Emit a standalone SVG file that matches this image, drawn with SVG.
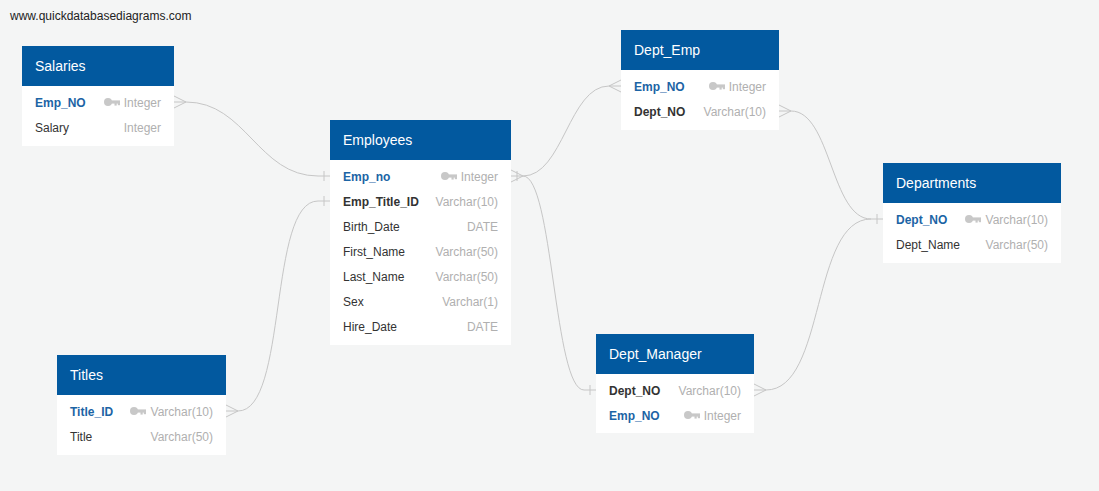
<svg xmlns="http://www.w3.org/2000/svg" width="1099" height="491" viewBox="0 0 1099 491">
<style>
text{font-family:"Liberation Sans",Arial,sans-serif}
.hdr{fill:#02599f}
.body{fill:#ffffff}
.ht{fill:#ffffff;font-size:14px}
.pk{fill:#1c64a5;font-size:12px;font-weight:bold}
.fk{fill:#333333;font-size:12px;font-weight:bold}
.col{fill:#333333;font-size:12px}
.ty{fill:#b0b0b0;font-size:12px;text-anchor:end}
.cn{fill:none;stroke:#c6c6c6;stroke-width:1}
</style>
<defs>
<symbol id="key" viewBox="0 0 16 8">
<circle cx="4" cy="4" r="4" fill="#c8c8c8"/>
<rect x="6" y="2.4" width="10" height="3.2" fill="#c8c8c8"/>
<rect x="10.5" y="5" width="2.2" height="2.6" fill="#c8c8c8"/>
<rect x="13.8" y="5" width="2.2" height="2.2" fill="#c8c8c8"/>
</symbol>
</defs>
<rect width="1099" height="491" fill="#f4f5f5"/>
<text x="10" y="20" style="font-size:12px;fill:#222">www.quickdatabasediagrams.com</text>

<g id="connectors">
<path class="cn" d="M174,102 H186 C246,102 258,176 318,176 H330"/>
<path class="cn" d="M174,96 L186,102 M174,108 L186,102 M324,171 V181"/>
<path class="cn" d="M226,411 H238 C288,411 268,201 318,201 H330"/>
<path class="cn" d="M226,405 L238,411 M226,417 L238,411 M324,196 V206"/>
<path class="cn" d="M511,176 H523 C563,176 569,86 609,86 H621"/>
<path class="cn" d="M621,80 L609,86 M621,92 L609,86"/>
<path class="cn" d="M523,176 C553,176 554,390 584,390 H596"/>
<path class="cn" d="M511,170 L523,176 M511,182 L523,176 M517,171 V181 M590,385 V395"/>
<path class="cn" d="M779,111 H791 C831,111 831,219 871,219 H883"/>
<path class="cn" d="M779,105 L791,111 M779,117 L791,111 M877,214 V224"/>
<path class="cn" d="M754,390 H766 C826,390 811,219 871,219"/>
<path class="cn" d="M754,384 L766,390 M754,396 L766,390"/>
</g>

<g id="salaries">
<rect class="body" x="22" y="86" width="152" height="60"/>
<rect class="hdr" x="22" y="46" width="152" height="40"/>
<text class="ht" x="35" y="71">Salaries</text>
<text class="pk" x="35" y="107">Emp_NO</text>
<use href="#key" x="104" y="98" width="16" height="8"/>
<text class="ty" x="161" y="107">Integer</text>
<text class="col" x="35" y="132">Salary</text>
<text class="ty" x="161" y="132">Integer</text>
</g>

<g id="employees">
<rect class="body" x="330" y="160" width="181" height="185"/>
<rect class="hdr" x="330" y="120" width="181" height="40"/>
<text class="ht" x="343" y="145">Employees</text>
<text class="pk" x="343" y="181">Emp_no</text>
<use href="#key" x="441" y="172" width="16" height="8"/>
<text class="ty" x="498" y="181">Integer</text>
<text class="fk" x="343" y="206">Emp_Title_ID</text>
<text class="ty" x="498" y="206">Varchar(10)</text>
<text class="col" x="343" y="231">Birth_Date</text>
<text class="ty" x="498" y="231">DATE</text>
<text class="col" x="343" y="256">First_Name</text>
<text class="ty" x="498" y="256">Varchar(50)</text>
<text class="col" x="343" y="281">Last_Name</text>
<text class="ty" x="498" y="281">Varchar(50)</text>
<text class="col" x="343" y="306">Sex</text>
<text class="ty" x="498" y="306">Varchar(1)</text>
<text class="col" x="343" y="331">Hire_Date</text>
<text class="ty" x="498" y="331">DATE</text>
</g>

<g id="dept_emp">
<rect class="body" x="621" y="70" width="158" height="60"/>
<rect class="hdr" x="621" y="30" width="158" height="40"/>
<text class="ht" x="634" y="55">Dept_Emp</text>
<text class="pk" x="634" y="91">Emp_NO</text>
<use href="#key" x="709" y="82" width="16" height="8"/>
<text class="ty" x="766" y="91">Integer</text>
<text class="fk" x="634" y="116">Dept_NO</text>
<text class="ty" x="766" y="116">Varchar(10)</text>
</g>

<g id="departments">
<rect class="body" x="883" y="203" width="178" height="60"/>
<rect class="hdr" x="883" y="163" width="178" height="40"/>
<text class="ht" x="896" y="188">Departments</text>
<text class="pk" x="896" y="224">Dept_NO</text>
<use href="#key" x="965" y="215" width="16" height="8"/>
<text class="ty" x="1048" y="224">Varchar(10)</text>
<text class="col" x="896" y="249">Dept_Name</text>
<text class="ty" x="1048" y="249">Varchar(50)</text>
</g>

<g id="dept_manager">
<rect class="body" x="596" y="374" width="158" height="59"/>
<rect class="hdr" x="596" y="334" width="158" height="40"/>
<text class="ht" x="609" y="359">Dept_Manager</text>
<text class="fk" x="609" y="395">Dept_NO</text>
<text class="ty" x="741" y="395">Varchar(10)</text>
<text class="pk" x="609" y="420">Emp_NO</text>
<use href="#key" x="684" y="411" width="16" height="8"/>
<text class="ty" x="741" y="420">Integer</text>
</g>

<g id="titles">
<rect class="body" x="57" y="395" width="169" height="60"/>
<rect class="hdr" x="57" y="355" width="169" height="40"/>
<text class="ht" x="70" y="380">Titles</text>
<text class="pk" x="70" y="416">Title_ID</text>
<use href="#key" x="130" y="407" width="16" height="8"/>
<text class="ty" x="213" y="416">Varchar(10)</text>
<text class="col" x="70" y="441">Title</text>
<text class="ty" x="213" y="441">Varchar(50)</text>
</g>
</svg>
